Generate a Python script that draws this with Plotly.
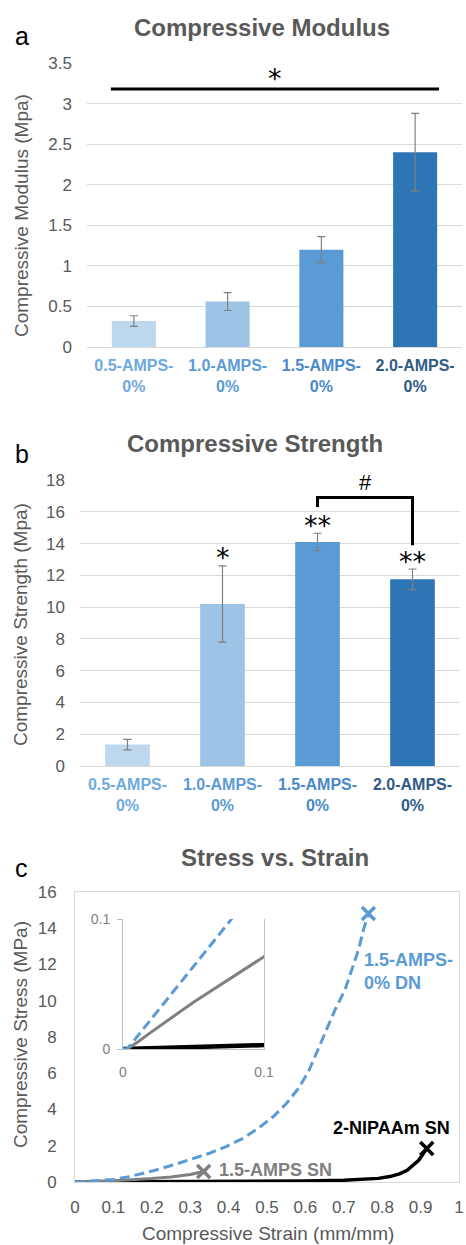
import plotly.graph_objects as go

W, H = 466, 1245
FONT = "Liberation Sans, Arial, sans-serif"
STAR_FONT = "DejaVu Sans, sans-serif"
GRAY_TXT = "#595959"
GRID = "#D9D9D9"

# ---------------- data ----------------
categories = ["0.5-AMPS-0%", "1.0-AMPS-0%", "1.5-AMPS-0%", "2.0-AMPS-0%"]
bar_colors = ["#BDD7EE", "#9DC3E6", "#5B9BD5", "#2E75B6"]
label_colors = ["#70A9DD", "#5B9BD5", "#4A89C8", "#2F5B87"]

modulus = [0.32, 0.56, 1.20, 2.40]
modulus_err = [0.065, 0.11, 0.16, 0.48]
modulus_sig_y = 3.18
modulus_sig_label = "*"

strength = [1.35, 10.2, 14.1, 11.75]
strength_err = [0.33, 2.4, 0.55, 0.65]
strength_marks = ["", "*", "**", "**"]
bracket_y = [16.3, 16.9, 16.9, 13.9]
bracket_label = "#"

blue_strain = [0, 0.003, 0.04, 0.077, 0.1, 0.143, 0.204, 0.256, 0.308, 0.352, 0.395,
               0.438, 0.477, 0.516, 0.551, 0.582, 0.608, 0.629, 0.651, 0.677, 0.703,
               0.720, 0.738, 0.751, 0.764]
blue_stress = [0, 0, 0.05, 0.1, 0.14, 0.3, 0.62, 0.94, 1.28, 1.6, 1.97, 2.41, 2.96,
               3.60, 4.34, 5.17, 6.09, 7.10, 8.20, 9.49, 10.6, 11.7, 12.8, 13.9, 14.82]

gray_strain = [0, 0.003, 0.01, 0.02, 0.05, 0.1, 0.15, 0.2, 0.25, 0.3, 0.335]
gray_stress = [0, 0, 0.005, 0.013, 0.036, 0.071, 0.12, 0.19, 0.28, 0.41, 0.58]

black_strain = [0, 0.1, 0.2, 0.3, 0.4, 0.5, 0.6, 0.7, 0.75, 0.79, 0.82, 0.845,
                0.865, 0.88, 0.895, 0.905, 0.916]
black_stress = [0, 0.003, 0.01, 0.02, 0.03, 0.04, 0.06, 0.1, 0.14, 0.2, 0.3, 0.45,
                0.65, 0.9, 1.2, 1.5, 1.85]

x_ticks_c = [0, 0.1, 0.2, 0.3, 0.4, 0.5, 0.6, 0.7, 0.8, 0.9, 1]
inset_ticks = [0, 0.1]

curve_labels = [
    ("1.5-AMPS-<br>0% DN", 0.747, 11.6, "left", "#5B9BD5"),
    ("2-NIPAAm SN", 0.982, 2.98, "right", "#000000"),
    ("1.5-AMPS SN", 0.370, 0.66, "left", "#808080"),
]

# ---------------- helpers ----------------
def dx(p0, p1):
    return [p0 / W, p1 / W]

def dy(top, bottom):
    return [1 - bottom / H, 1 - top / H]

idx = list(range(len(categories)))
ticktext = [
    f"<span style='color:{col}'>{c[:-2]}</span><br><span style='color:{col}'>{c[-2:]}</span>"
    for c, col in zip(categories, label_colors)
]

fig = go.Figure()

# Panel a
fig.add_trace(go.Bar(
    x=idx, y=modulus, width=0.47, marker=dict(color=bar_colors, line=dict(width=0)),
    error_y=dict(type="data", array=modulus_err, color="#808080", thickness=1.2, width=4),
    xaxis="x", yaxis="y"))
fig.add_trace(go.Scatter(
    x=[idx[0] - 0.245, idx[-1] + 0.255], y=[modulus_sig_y, modulus_sig_y], mode="lines",
    line=dict(color="black", width=3), xaxis="x", yaxis="y"))

# Panel b
fig.add_trace(go.Bar(
    x=idx, y=strength, width=0.47, marker=dict(color=bar_colors, line=dict(width=0)),
    error_y=dict(type="data", array=strength_err, color="#808080", thickness=1.2, width=4),
    xaxis="x2", yaxis="y2"))
fig.add_trace(go.Scatter(
    x=[2, 2, 3, 3], y=bracket_y, mode="lines",
    line=dict(color="black", width=3), xaxis="x2", yaxis="y2"))

# Panel c main
for xs, ys, col, w, dash in [
    (black_strain, black_stress, "#000000", 3.5, "solid"),
    (gray_strain, gray_stress, "#808080", 3, "solid"),
    (blue_strain, blue_stress, "#5B9BD5", 3, "10px,5px"),
]:
    fig.add_trace(go.Scatter(x=xs, y=ys, mode="lines", line=dict(color=col, width=w, dash=dash),
                             xaxis="x3", yaxis="y3"))
    fig.add_trace(go.Scatter(x=[xs[-1]], y=[ys[-1]], mode="markers", cliponaxis=False,
                             marker=dict(symbol="x-thin", size=13, color=col,
                                         line=dict(color=col, width=3.5)),
                             xaxis="x3", yaxis="y3"))

# Panel c inset
for xs, ys, col, w, dash in [
    (black_strain, black_stress, "#000000", 4.5, "solid"),
    (gray_strain, gray_stress, "#808080", 3, "solid"),
    (blue_strain, blue_stress, "#5B9BD5", 3, "10px,5px"),
]:
    fig.add_trace(go.Scatter(x=xs, y=ys, mode="lines", line=dict(color=col, width=w, dash=dash),
                             xaxis="x4", yaxis="y4"))

bar_y_common = dict(gridcolor=GRID, gridwidth=1, zeroline=False, showline=False,
                    tickfont=dict(family=FONT, size=17, color=GRAY_TXT),
                    ticklabelstandoff=14, fixedrange=True, automargin=False)
bar_x_common = dict(range=[-0.5, 3.5], tickvals=idx, ticktext=ticktext,
                    tickfont=dict(family=FONT, size=16, weight="bold"),
                    showline=True, linecolor=GRID, linewidth=1, showgrid=False,
                    zeroline=False, ticks="", ticklabelstandoff=4, fixedrange=True,
                    automargin=False)

fig.update_layout(
    width=W, height=H, autosize=False, showlegend=False,
    margin=dict(l=0, r=0, t=0, b=0, pad=0),
    paper_bgcolor="white", plot_bgcolor="white",
    bargap=0.53,
    font=dict(family=FONT, color=GRAY_TXT),
    xaxis=dict(domain=dx(87, 462), anchor="y", **bar_x_common),
    yaxis=dict(domain=dy(63, 347), anchor="x", range=[0, 3.5], dtick=0.5, **bar_y_common),
    xaxis2=dict(domain=dx(80, 460), anchor="y2", **bar_x_common),
    yaxis2=dict(domain=dy(480, 766), anchor="x2", range=[0, 18], dtick=2, **bar_y_common),
    xaxis3=dict(domain=dx(75, 459), anchor="y3", range=[0, 1], tickvals=x_ticks_c,
                ticktext=[f"{v:g}" for v in x_ticks_c],
                showline=True, mirror=True, linecolor=GRID, showgrid=False, zeroline=False,
                tickfont=dict(family=FONT, size=17, color=GRAY_TXT), ticklabelstandoff=10,
                fixedrange=True, automargin=False),
    yaxis3=dict(domain=dy(892, 1182), anchor="x3", range=[0, 16], dtick=2,
                showline=True, mirror=True, linecolor=GRID, showgrid=False, zeroline=False,
                tickfont=dict(family=FONT, size=17, color=GRAY_TXT), ticklabelstandoff=14,
                fixedrange=True, automargin=False),
    xaxis4=dict(domain=dx(123, 264), anchor="y4", range=[0, 0.1], tickvals=inset_ticks,
                ticktext=[f"{v:g}" for v in inset_ticks],
                showline=True, linecolor="#BFBFBF", showgrid=False, zeroline=False,
                tickfont=dict(family=FONT, size=14, color="#7F7F7F"), ticklabelstandoff=10,
                fixedrange=True, automargin=False),
    yaxis4=dict(domain=dy(919, 1049), anchor="x4", range=[0, 0.1], tickvals=inset_ticks,
                ticktext=[f"{v:g}" for v in inset_ticks],
                showline=True, mirror=True, linecolor="#BFBFBF", showgrid=False, zeroline=False,
                ticks="outside", ticklen=5, tickcolor="#BFBFBF",
                tickfont=dict(family=FONT, size=14, color="#7F7F7F"), ticklabelstandoff=4,
                fixedrange=True, automargin=False),
)

ann = []
# titles
for text, cx, cy in [("Compressive Modulus", 262, 27), ("Compressive Strength", 255, 443),
                     ("Stress vs. Strain", 275, 857)]:
    ann.append(dict(text=f"<b>{text}</b>", x=cx / W, y=1 - cy / H, xref="paper", yref="paper",
                    showarrow=False, xanchor="center", yanchor="middle",
                    font=dict(family=FONT, size=24, color=GRAY_TXT)))
# panel letters
for text, cx, cy in [("a", 22, 36), ("b", 22, 454), ("c", 21, 868)]:
    ann.append(dict(text=text, x=cx / W, y=1 - cy / H, xref="paper", yref="paper",
                    showarrow=False, xanchor="center", yanchor="middle",
                    font=dict(family=FONT, size=25, color="black")))
# axis titles
for text, cx, cy in [("Compressive Modulus (Mpa)", 21, 216), ("Compressive Strength (Mpa)", 20, 625),
                     ("Compressive Stress (MPa)", 20, 1035)]:
    ann.append(dict(text=text, x=cx / W, y=1 - cy / H, xref="paper", yref="paper",
                    showarrow=False, xanchor="center", yanchor="middle", textangle=-90,
                    font=dict(family=FONT, size=19, color=GRAY_TXT)))
ann.append(dict(text="Compressive Strain (mm/mm)", x=268 / W, y=1 - 1233 / H, xref="paper",
                yref="paper", showarrow=False, xanchor="center", yanchor="middle",
                font=dict(family=FONT, size=19, color=GRAY_TXT)))
# significance marks
ann.append(dict(text=modulus_sig_label, x=(idx[0] + idx[-1]) / 2, y=modulus_sig_y + 0.13,
                xref="x", yref="y", showarrow=False, yanchor="middle",
                font=dict(family=STAR_FONT, size=27, color="black")))
for i, m in enumerate(strength_marks):
    if m:
        ann.append(dict(text=m, x=idx[i], y=strength[i] + strength_err[i] + 0.5,
                        xref="x2", yref="y2", showarrow=False, yanchor="middle",
                        font=dict(family=STAR_FONT, size=27, color="black")))
ann.append(dict(text=bracket_label, x=2.5, y=bracket_y[1] + 0.95, xref="x2", yref="y2",
                showarrow=False, yanchor="middle", font=dict(family=FONT, size=22, color="black")))
# curve labels
for text, x, y, anchor, col in curve_labels:
    ann.append(dict(text=f"<b>{text}</b>", x=x, y=y, xref="x3", yref="y3", showarrow=False,
                    xanchor=anchor, yanchor="middle", align="left",
                    font=dict(family=FONT, size=18, color=col)))

fig.update_layout(annotations=ann)
fig.write_html(
    "out.html",
    config={"displayModeBar": False, "staticPlot": True},
    post_script="document.body.style.margin='0';document.body.style.padding='0';"
                "document.documentElement.style.overflow='hidden';",
)
